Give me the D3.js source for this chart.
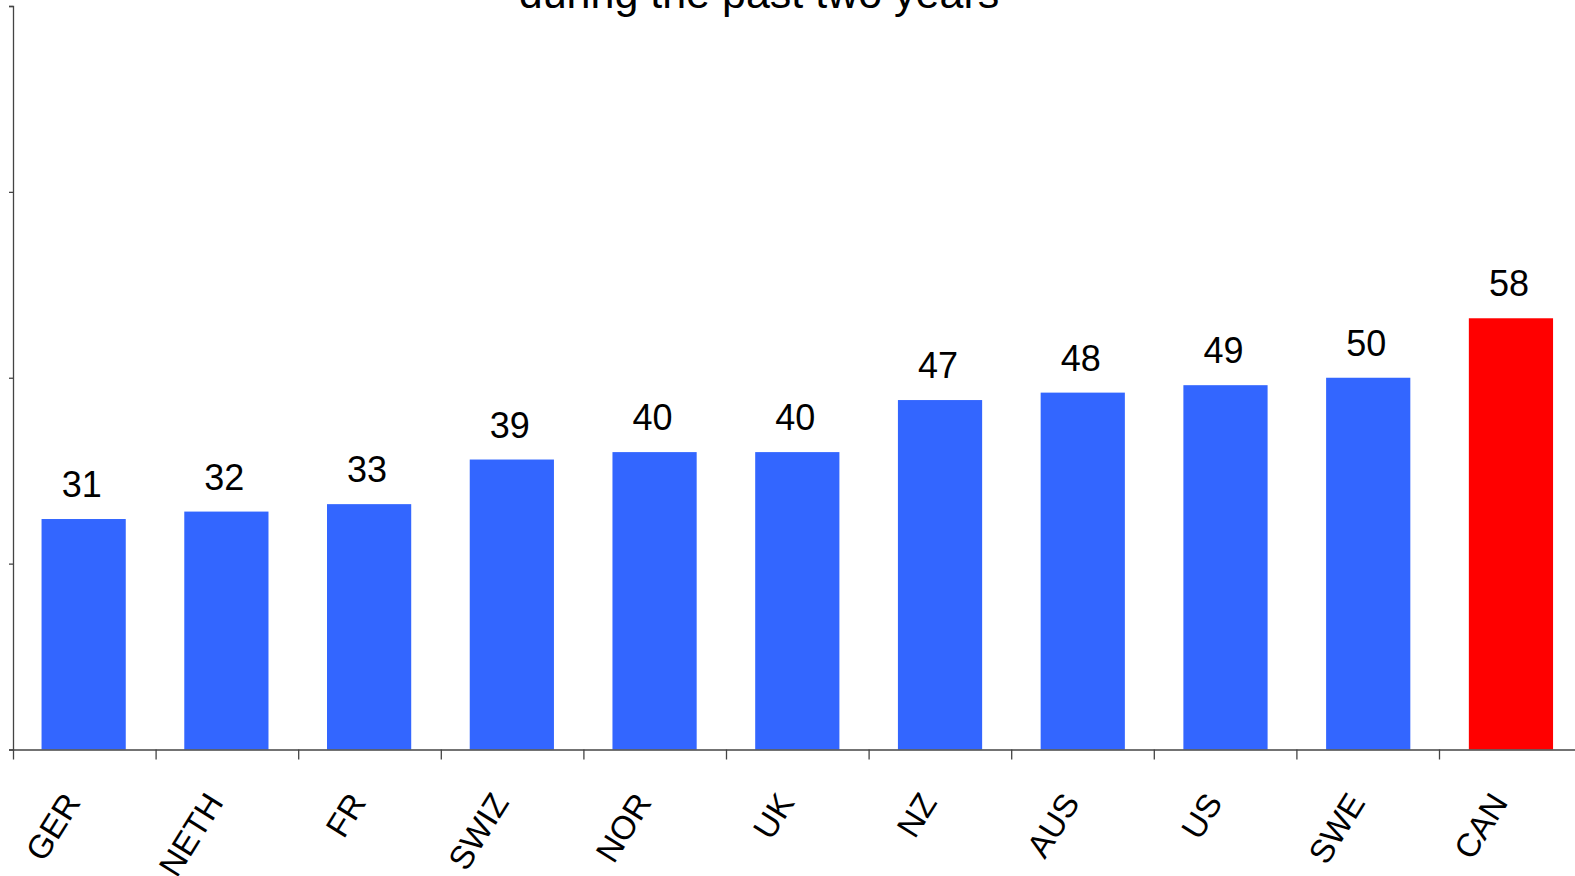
<!DOCTYPE html>
<html>
<head>
<meta charset="utf-8">
<script src="https://cdn.jsdelivr.net/npm/d3@7"></script>
<style>
  html, body { margin: 0; padding: 0; background: #fff; overflow: hidden; }
  svg { display: block; font-family: Arial, "Liberation Sans", sans-serif; }
</style>
</head>
<body>
<svg class="js-graph"></svg>
<script>
(function myModule(d3) {
  /* <DATA> */
  var countries = ['GER', 'NETH', 'FR', 'SWIZ', 'NOR', 'UK', 'NZ', 'AUS', 'US', 'SWE', 'CAN'];
  var percents = [31, 32, 33, 39, 40, 40, 47, 48, 49, 50, 58];
  var yTicks = [0, 25, 50, 75, 100];
  var highlight = 'CAN';
  var titleText = 'during the past two years';
  /* </DATA> */

  var width = 1575;
  var height = 876;
  var margin = { top: 6, left: 13, bottom: 126.5 };
  var step = 142.6;

  var svg = d3.select('.js-graph')
    .attr('width', width)
    .attr('height', height);

  var xScale = d3.scaleBand()
    .domain(countries)
    .range([margin.left, margin.left + step * countries.length])
    .paddingInner(0.41)
    .paddingOuter(0.2);

  // boundaries between categories (axis ticks sit between the bars)
  var xEdges = d3.scaleLinear()
    .domain([0, countries.length])
    .range(xScale.range());

  var yScale = d3.scaleLinear()
    .domain([0, 100])
    .range([height - margin.bottom, margin.top]);

  // title (first line is off the top of the picture)
  svg.append('text')
    .attr('x', 759)
    .attr('y', 8)
    .attr('text-anchor', 'middle')
    .style('font-size', '43px')
    .style('fill', '#000')
    .text(titleText);

  // bars
  svg.append('g')
    .selectAll('rect')
    .data(countries)
    .enter()
    .append('rect')
    .attr('x', function (d) { return xScale(d); })
    .attr('width', xScale.bandwidth())
    .attr('y', function (d, i) { return yScale(percents[i]); })
    .attr('height', function (d, i) { return yScale(0) - yScale(percents[i]); })
    .attr('fill', function (d) { return d === highlight ? '#ff0000' : '#3366ff'; });

  // value labels
  svg.append('g')
    .selectAll('text')
    .data(countries)
    .enter()
    .append('text')
    .attr('x', function (d) { return xScale(d) + xScale.bandwidth() / 2 - 2; })
    .attr('y', function (d, i) { return yScale(percents[i]) - 22; })
    .attr('text-anchor', 'middle')
    .style('font-size', '36px')
    .style('fill', '#000')
    .text(function (d, i) { return percents[i]; });

  // Y AXIS (ticks only, no labels)
  var yAxis = svg.append('g')
    .attr('transform', 'translate(' + margin.left + ',0)')
    .call(d3.axisLeft(yScale).tickValues(yTicks).tickSize(4).tickFormat(''));

  // X AXIS
  var xAxis = svg.append('g')
    .attr('transform', 'translate(0,' + yScale(0) + ')')
    .call(d3.axisBottom(xEdges).tickValues(d3.range(0, countries.length + 1))
      .tickSizeInner(10).tickSizeOuter(0).tickFormat(''));

  [yAxis, xAxis].forEach(function (ax) {
    ax.selectAll('path, line').attr('stroke', '#444').attr('stroke-width', 1.3);
  });

  // category labels
  svg.append('g')
    .selectAll('text')
    .data(countries)
    .enter()
    .append('text')
    .attr('transform', function (d) {
      return 'translate(' + (xScale(d) + xScale.bandwidth() / 2 - 2) + ',' + (yScale(0) + 53) + ') rotate(-58)';
    })
    .attr('text-anchor', 'end')
    .style('font-size', '33px')
    .style('fill', '#000')
    .text(function (d) { return d; });
}(d3));
</script>
</body>
</html>
